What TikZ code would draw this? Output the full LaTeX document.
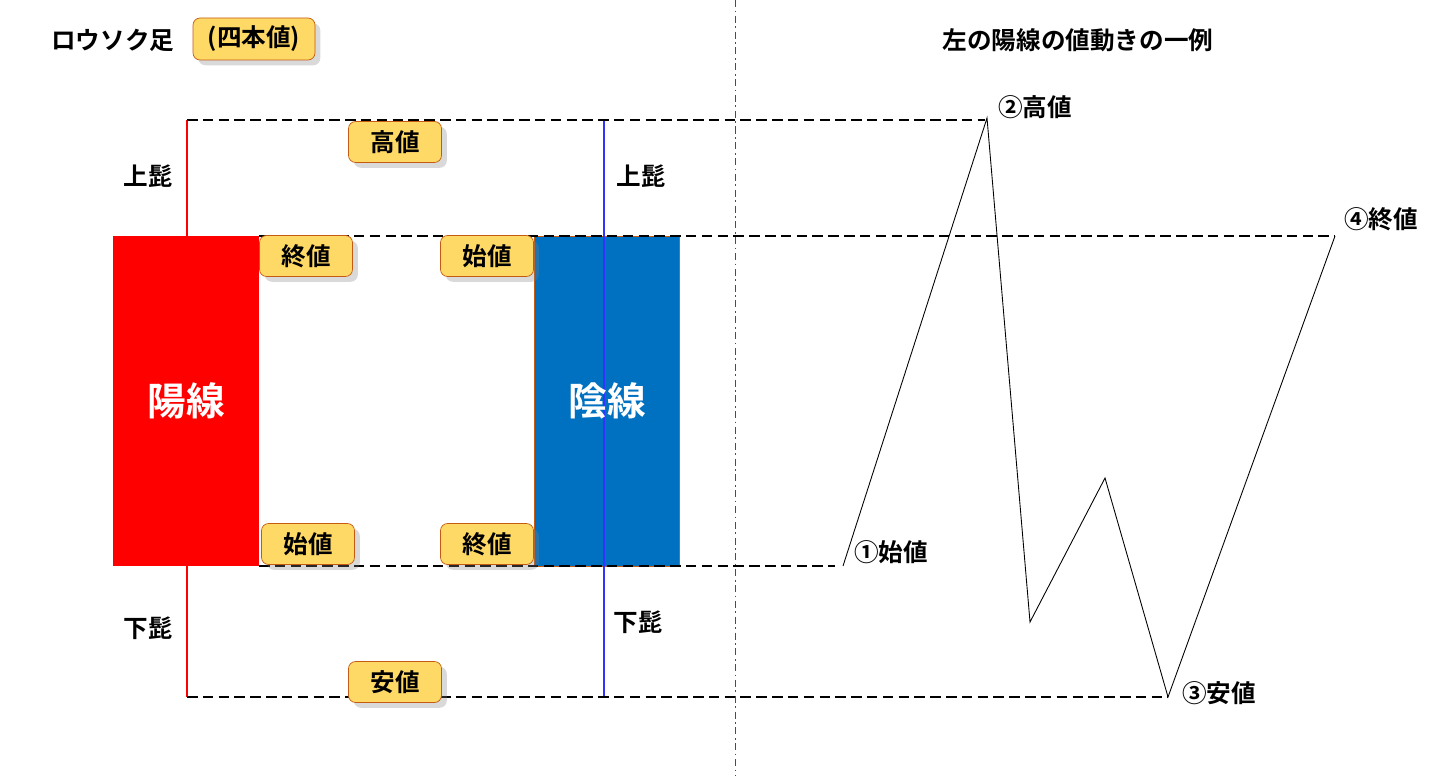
\documentclass[tikz,border=0pt]{standalone}
\usepackage{fontspec}
\setmainfont{Noto Sans CJK JP}[BoldFont={Noto Sans CJK JP Bold}]
\usetikzlibrary{shadows}
\definecolor{lblfill}{HTML}{FFD966}
\definecolor{lbldraw}{HTML}{C55A11}
\definecolor{bluec}{HTML}{0070C0}
\tikzset{
 lbl/.style={fill=lblfill,draw=lbldraw,rounded corners=4pt,minimum width=1.86cm,minimum height=0.82cm,font=\bfseries\fontsize{14}{16}\selectfont,inner sep=1pt,drop shadow={opacity=0.3,shadow xshift=3pt,shadow yshift=-3pt}},
 txt/.style={font=\bfseries\fontsize{14}{16}\selectfont},
 dl/.style={dashed,line width=1.6pt,dash pattern=on 6pt off 3pt},
}
\begin{document}
\begin{tikzpicture}[x=0.02cm,y=-0.02cm]
\useasboundingbox (0,0) rectangle (1442,776);
\draw[black!70,dash pattern=on 4pt off 2pt on 1pt off 2pt,line width=0.5pt] (735,0)--(735,776);
\node[txt,anchor=west] (t1) at (45,40) {ロウソク足};
\node[lbl,minimum width=2.44cm,minimum height=0.84cm] (t2) at (254,39) {(四本値)};
\node[txt] (t3) at (1078,40) {左の陽線の値動きの一例};
% wicks
\coordinate (rt) at (187,120); \coordinate (rb) at (187,697);
\coordinate (bt) at (604,120); \coordinate (bb) at (604,697);
\draw[red,line width=0.6pt] (rt)--(rb);
\node[fill=red,minimum width=2.92cm,minimum height=6.6cm,inner sep=0] (yang) at (186,401) {};
\node[text=white,font=\bfseries\fontsize{22}{26}\selectfont] at (yang) {陽線};
\node[fill=bluec,draw=lbldraw,line width=0.4pt,minimum width=2.9cm,minimum height=6.6cm,inner sep=0] (yin) at (607,401) {};
\draw[blue!80,line width=0.6pt] (bt)--(bb);
\node[text=white,font=\bfseries\fontsize{22}{26}\selectfont] at (yin) {陰線};
% dashed levels
\coordinate (h1) at (187,120); \coordinate (h2) at (985,120);
\coordinate (c1) at (259,236); \coordinate (c2) at (1335,236);
\coordinate (o1) at (259,566); \coordinate (o2) at (835,566);
\coordinate (l1) at (187,697); \coordinate (l2) at (1168,697);
\draw[dl] (h1)--(h2); \draw[dl] (c1)--(c2); \draw[dl] (o1)--(o2); \draw[dl] (l1)--(l2);
% labels
\node[lbl] (hi) at (395,142) {高値};
\node[lbl] (cl) at (306,256) {終値};
\node[lbl] (op) at (487,256) {始値};
\node[lbl] (op2) at (308,544) {始値};
\node[lbl] (cl2) at (487,544) {終値};
\node[lbl] (lo) at (395,682) {安値};
\node[txt] (u1) at (148,176) {上髭};
\node[txt] (d1) at (148,628) {下髭};
\node[txt] (u2) at (641,176) {上髭};
\node[txt] (d2) at (638,622) {下髭};
% zigzag
\coordinate (z1) at (843,566); \coordinate (z2) at (987,118); \coordinate (z3) at (1030,622);
\coordinate (z4) at (1105,478); \coordinate (z5) at (1168,697); \coordinate (z6) at (1335,236);
\draw[line width=0.5pt] (z1)--(z2)--(z3)--(z4)--(z5)--(z6);
\node[txt,anchor=west] (n1) at (848,552) {①始値};
\node[txt,anchor=west] (n2) at (992,107) {②高値};
\node[txt,anchor=west] (n3) at (1176,693) {③安値};
\node[txt,anchor=west] (n4) at (1338,219) {④終値};
\end{tikzpicture}
\end{document}
